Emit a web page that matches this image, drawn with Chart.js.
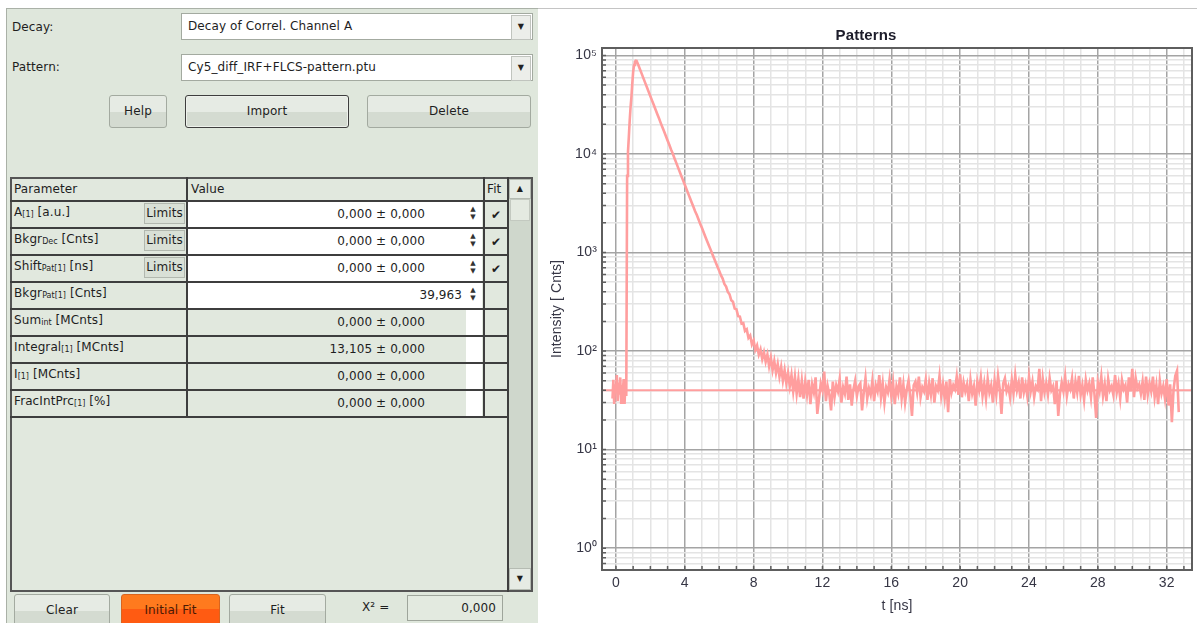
<!DOCTYPE html>
<html>
<head>
<meta charset="utf-8">
<title>Patterns</title>
<script src="https://cdn.jsdelivr.net/npm/chart.js@4.4.1/dist/chart.umd.min.js"></script>
<style>
  html, body { margin: 0; padding: 0; background: #fff; }
  body { width: 1197px; height: 623px; position: relative; overflow: hidden;
         font-family: "DejaVu Sans", "Liberation Sans", Arial, sans-serif; font-size: 12px;
         letter-spacing: 0.1px; color: #1e1e1e; }
  .abs { position: absolute; box-sizing: border-box; }
  #panel { left: 6px; top: 8px; width: 532px; height: 615px; background: #dfe7dc;
           border-top: 1px solid #aab1a7; border-left: 1px solid #aab1a7; }
  #topline { left: 538px; top: 8px; width: 659px; height: 1px; background: #c4c4c4; }
  .lbl { line-height: 16px; white-space: nowrap; }
  .combo { left: 181px; width: 352px; height: 27px; background: #fff; border: 1px solid #a3aaa0; }
  .combo span { position: absolute; left: 6px; top: 0; line-height: 25px; white-space: nowrap; }
  .drop { position: absolute; right: 1px; top: 1px; width: 18px; height: 23px; background: #eceeea;
          border: 1px solid #c0c4be; font-size: 8px; line-height: 21px; text-align: center; color: #222; }
  .btn { height: 33px; border: 1px solid #a3aaa0; border-radius: 3px; text-align: center; line-height: 31px;
         background: linear-gradient(#e6ebe4 0%, #e6ebe4 52%, #d4dbd1 53%, #d4dbd1 100%); white-space: nowrap; }
  .btn.dark { border: 1px solid #3e3e3e; box-shadow: inset 0 0 0 1px #eef2ec; }
  .btn.orange { background: linear-gradient(#ff7a1e 0%, #ff7a1e 45%, #ff5b12 46%, #ff5b12 100%);
                border-color: #d9641e; color: #4a1a04; }
  .hline { height: 2px; background: #3e3e3e; }
  .vline { width: 2px; background: #3e3e3e; }
  .cellw { background: #fff; }
  .limits { height: 21px; width: 41px; left: 144px; background: #d9e0d6; border: 1px solid #b2b8af;
            line-height: 19px; text-align: center; }
  .val { text-align: right; white-space: nowrap; line-height: 25px; }
  .spin { width: 18px; height: 25px; left: 464px; background: #fff; font-size: 7px; line-height: 8px;
          text-align: center; color: #333; padding-top: 3px; }
  sub { font-size: 8px; vertical-align: -1px; letter-spacing: 0; }
  #chartBox { left: 540px; top: 0; width: 657px; height: 623px; }
</style>
</head>
<body>
<div id="panel" class="abs"></div>
<div id="topline" class="abs"></div>

<div class="abs lbl" style="left:12px;top:19px">Decay:</div>
<div class="abs combo" style="top:13px"><span>Decay of Correl. Channel A</span><div class="drop">▼</div></div>
<div class="abs lbl" style="left:12px;top:59px">Pattern:</div>
<div class="abs combo" style="top:54px"><span>Cy5_diff_IRF+FLCS-pattern.ptu</span><div class="drop">▼</div></div>

<div class="abs btn" style="left:109px;top:95px;width:58px">Help</div>
<div class="abs btn dark" style="left:185px;top:95px;width:164px">Import</div>
<div class="abs btn" style="left:367px;top:95px;width:164px">Delete</div>

<!-- parameter table -->
<div class="abs" style="left:10px;top:177px;width:523px;height:415px;border:2px solid #555;background:#e1e8de"></div>
<div class="abs lbl" style="left:14px;top:181px">Parameter</div>
<div class="abs lbl" style="left:191px;top:181px">Value</div>
<div class="abs lbl" style="left:487px;top:181px">Fit</div>
<div id="rows"></div>
<div class="abs vline" style="left:186px;top:177px;height:241px"></div>
<div class="abs vline" style="left:483px;top:177px;height:241px"></div>
<div class="abs vline" style="left:507px;top:177px;height:415px"></div>
<div class="abs hline" style="left:10px;top:416px;width:498px"></div>
<!-- scrollbar -->
<div class="abs" style="left:509px;top:179px;width:22px;height:411px;background:#cfd7cc"></div>
<div class="abs" style="left:509px;top:179px;width:22px;height:20px;background:#e6ebe4;border:1px solid #b5bbb2;font-size:8px;line-height:18px;text-align:center">▲</div>
<div class="abs" style="left:510px;top:199px;width:20px;height:22px;background:#e4eae1;border:1px solid #c3c9c0"></div>
<div class="abs" style="left:509px;top:568px;width:22px;height:22px;background:#e6ebe4;border:1px solid #b5bbb2;font-size:8px;line-height:20px;text-align:center">▼</div>

<!-- bottom buttons -->
<div class="abs btn" style="left:14px;top:594px;width:96px">Clear</div>
<div class="abs btn orange" style="left:121px;top:594px;width:99px">Initial Fit</div>
<div class="abs btn" style="left:229px;top:594px;width:97px">Fit</div>
<div class="abs lbl" style="left:362px;top:599px">X² =</div>
<div class="abs" style="left:407px;top:595px;width:96px;height:26px;border:1px solid #9ea59b;background:#e3eae0;text-align:right;padding-right:6px;line-height:24px">0,000</div>

<div id="chartBox" class="abs"><canvas id="patternChart" width="657" height="623"></canvas></div>

<script>
// --- fit parameter table (text as shown)
var paramNames = ['A', 'Bkgr', 'Shift', 'Bkgr', 'Sum', 'Integral', 'I', 'FracIntPrc'];
var paramSubs = ['[1]', 'Dec', 'Pat[1]', 'Pat[1]', 'int', '[1]', '[1]', '[1]'];
var paramUnits = ['[a.u.]', '[Cnts]', '[ns]', '[Cnts]', '[MCnts]', '[MCnts]', '[MCnts]', '[%]'];
var paramValues = ['0,000 ± 0,000', '0,000 ± 0,000', '0,000 ± 0,000', '39,963',
                   '0,000 ± 0,000', '13,105 ± 0,000', '0,000 ± 0,000', '0,000 ± 0,000'];
var paramEditable = [true, true, true, true, false, false, false, false];
var paramFitted = [true, true, true, false, false, false, false, false];

// --- pattern curve, t [ns] and counts per bin
const times = [
  -0.2,-0.15,-0.1,-0.05,0,0.05,0.1,0.15,0.2,0.25,0.3,0.35,0.4,0.45,0.5,0.55,0.6,0.65,0.7,0.75,0.8,0.85,0.9,0.95,1,1.05,1.1,1.15,1.2,
  1.3,1.4,1.5,1.6,1.7,1.8,1.9,
  2,2.1,2.2,2.3,2.4,2.5,2.6,2.7,2.8,2.9,
  3,3.1,3.2,3.3,3.4,3.5,3.6,3.7,3.8,3.9,
  4,4.1,4.2,4.3,4.4,4.5,4.6,4.7,4.8,4.9,
  5,5.1,5.2,5.3,5.4,5.5,5.6,5.7,5.8,5.9,
  6,6.1,6.2,6.3,6.4,6.5,6.6,6.7,6.8,6.9,
  7,7.1,7.2,7.3,7.4,7.5,7.6,7.7,7.8,7.9,
  8,8.1,8.2,8.3,8.4,8.5,8.6,8.7,8.8,8.9,
  9,9.1,9.2,9.3,9.4,9.5,9.6,9.7,9.8,9.9,
  10,10.1,10.2,10.3,10.4,10.5,10.6,10.7,10.8,10.9,
  11,11.1,11.2,11.3,11.4,11.5,11.6,11.7,11.8,11.9,
  12,12.1,12.2,12.3,12.4,12.5,12.6,12.7,12.8,12.9,
  13,13.1,13.2,13.3,13.4,13.5,13.6,13.7,13.8,13.9,
  14,14.1,14.2,14.3,14.4,14.5,14.6,14.7,14.8,14.9,
  15,15.1,15.2,15.3,15.4,15.5,15.6,15.7,15.8,15.9,
  16,16.1,16.2,16.3,16.4,16.5,16.6,16.7,16.8,16.9,
  17,17.1,17.2,17.3,17.4,17.5,17.6,17.7,17.8,17.9,
  18,18.1,18.2,18.3,18.4,18.5,18.6,18.7,18.8,18.9,
  19,19.1,19.2,19.3,19.4,19.5,19.6,19.7,19.8,19.9,
  20,20.1,20.2,20.3,20.4,20.5,20.6,20.7,20.8,20.9,
  21,21.1,21.2,21.3,21.4,21.5,21.6,21.7,21.8,21.9,
  22,22.1,22.2,22.3,22.4,22.5,22.6,22.7,22.8,22.9,
  23,23.1,23.2,23.3,23.4,23.5,23.6,23.7,23.8,23.9,
  24,24.1,24.2,24.3,24.4,24.5,24.6,24.7,24.8,24.9,
  25,25.1,25.2,25.3,25.4,25.5,25.6,25.7,25.8,25.9,
  26,26.1,26.2,26.3,26.4,26.5,26.6,26.7,26.8,26.9,
  27,27.1,27.2,27.3,27.4,27.5,27.6,27.7,27.8,27.9,
  28,28.1,28.2,28.3,28.4,28.5,28.6,28.7,28.8,28.9,
  29,29.1,29.2,29.3,29.4,29.5,29.6,29.7,29.8,29.9,
  30,30.1,30.2,30.3,30.4,30.5,30.6,30.7,30.8,30.9,
  31,31.1,31.2,31.3,31.4,31.5,31.6,31.7,31.8,31.9,
  32,32.1,32.2,32.3,32.4,32.5,32.6,32.7
];
const counts = [
  33,51,29,46,38,57,31,48,36,54,30,45,40,52,29,47,35,6000,10500,15000,22000,30000,38000,52000,68000,80000,86000,88500,88000,
  80000,72000,65000,58500,52700,47500,42900,
  38600,34800,31400,28300,25500,23000,20700,18700,16900,15200,
  13700,12400,11100,10100,9060,8170,7360,6640,5990,5400,
  4870,4400,3960,3570,3220,2910,2620,2400,2160,1950,
  1770,1600,1440,1300,1180,1070,965,876,793,719,
  652,589,544,480,452,398,377,327,316,270,
  266,226,224,190,192,160,166,136,144,117,
  128,103,114,92,104,83,97,78,92,70,
  86,64,79,60,74,55,69,50,64,47,
  60,44,57,39,55,37,52,34,50,33,
  49,36,51,29,46,38,54,23,33,47,
  40,62,31,44,36,25,49,34,45,39,
  52,30,43,37,55,32,46,28,41,50,
  35,44,47,25,38,53,33,42,36,50,
  31,45,39,57,34,47,30,43,38,52,
  35,48,29,44,37,54,33,46,30,41,
  50,36,22,45,49,38,55,34,43,39,
  51,32,47,36,53,30,44,40,56,35,
  46,33,49,24,52,38,45,41,55,36,
  58,34,48,39,46,31,51,37,44,28,
  49,40,54,35,47,33,52,38,45,30,
  50,36,56,41,23,47,53,39,44,34,
  51,37,57,40,48,33,54,38,46,35,
  55,39,49,34,44,41,66,31,52,38,
  47,36,53,40,44,29,50,22,37,48,
  39,55,35,46,41,53,33,49,38,56,
  36,45,32,51,40,47,34,54,37,21,
  48,39,55,35,46,31,52,40,44,36,
  57,38,47,33,51,41,45,30,54,39,
  66,34,53,42,46,37,49,32,55,36,
  47,39,55,34,45,29,50,37,44,33,
  52,28,46,19,41,56,63,24
];
const bkgrPattern = 39.963;   // Bkgr Pat[1] level

// axis ranges and ticks
const tMin = -0.81, tMax = 33.47;
const yMin = 0.62, yMax = 119000;
const xLabelEvery = 4;
const tickExps = [-1, 0, 1, 2, 3, 4, 5];
const tickMantissas = [1, 2, 3, 4, 5, 6, 7, 8, 9];
const superDigits = ['⁰', '¹', '²', '³', '⁴', '⁵', '⁶', '⁷', '⁸', '⁹'];

var curveColor = '#ff9e9e';
var majorGrid = '#a4a4a4';
var minorGrid = '#e4e4e4';
var textColor = '#363645';

// build the table rows
function buildRows() {
  var host = document.getElementById('rows');
  paramNames.forEach(function (name, i) {
    var top = 202 + i * 27;
    var html = '';
    html += '<div class="abs hline" style="left:10px;top:' + (top - 2) + 'px;width:498px"></div>';
    html += '<div class="abs lbl" style="left:14px;top:' + (top + 2) + 'px">' + name +
            '<sub>' + paramSubs[i] + '</sub> ' + paramUnits[i] + '</div>';
    if (paramFitted[i]) {
      html += '<div class="abs limits" style="top:' + (top + 1) + 'px">Limits</div>';
      html += '<div class="abs lbl" style="left:491px;top:' + (top + 5) + 'px;font-size:12px">✔</div>';
    }
    if (paramEditable[i]) {
      html += '<div class="abs cellw" style="left:188px;top:' + top + 'px;width:276px;height:25px"></div>';
      html += '<div class="abs spin" style="top:' + top + 'px">▲<br>▼</div>';
    } else {
      html += '<div class="abs cellw" style="left:466px;top:' + top + 'px;width:16px;height:25px"></div>';
    }
    var right = (paramValues[i].indexOf('±') >= 0) ? 425 : 462;
    html += '<div class="abs val" style="left:188px;top:' + top + 'px;width:' + (right - 188) + 'px">' +
            paramValues[i] + '</div>';
    host.insertAdjacentHTML('beforeend', html);
  });
}

function isPow10(v) {
  var l = Math.log10(v);
  return Math.abs(l - Math.round(l)) < 1e-6;
}

function logTickValues() {
  var vals = [];
  tickExps.forEach(function (e) {
    tickMantissas.forEach(function (m) {
      var v = m * Math.pow(10, e);
      if (v >= yMin && v <= yMax) vals.push(v);
    });
  });
  return vals;
}

// frame around the plot and small inward tick marks
var framePlugin = {
  id: 'plotFrame',
  afterDraw: function (chart) {
    var ctx = chart.ctx, a = chart.chartArea, sx = chart.scales.x, sy = chart.scales.y;
    ctx.save();
    ctx.strokeStyle = '#5e5e5e';
    ctx.lineWidth = 1.5;
    ctx.beginPath();
    sx.ticks.forEach(function (t) {
      var px = sx.getPixelForValue(t.value);
      ctx.moveTo(px, a.bottom);
      ctx.lineTo(px, a.bottom - 4);
    });
    sy.ticks.forEach(function (t) {
      var py = sy.getPixelForValue(t.value);
      ctx.moveTo(a.left, py);
      ctx.lineTo(a.left + 4, py);
    });
    ctx.stroke();
    ctx.lineWidth = 2;
    ctx.strokeRect(a.left, a.top, a.right - a.left, a.bottom - a.top);
    ctx.restore();
  }
};

function drawChart() {
  var points = times.map(function (t, i) { return {x: t, y: counts[i]}; });
  var ctx = document.getElementById('patternChart').getContext('2d');
  new Chart(ctx, {
    type: 'line',
    data: {
      datasets: [
        {
          data: [{x: tMin, y: bkgrPattern}, {x: tMax, y: bkgrPattern}],
          borderColor: curveColor, borderWidth: 2, pointRadius: 0
        },
        {
          data: points,
          borderColor: curveColor, borderWidth: 2.6, pointRadius: 0, tension: 0
        }
      ]
    },
    options: {
      responsive: false,
      animation: false,
      devicePixelRatio: 1,
      layout: { padding: { left: 0, right: 5, top: 0, bottom: 0 } },
      plugins: {
        legend: { display: false },
        tooltip: { enabled: false },
        title: {
          display: true,
          text: 'Patterns',
          color: '#1c1c2a',
          font: { family: 'Liberation Sans', size: 15, weight: 'bold' },
          padding: { top: 27, bottom: 3 }
        }
      },
      scales: {
        x: {
          type: 'linear',
          min: tMin,
          max: tMax,
          afterBuildTicks: function (scale) {
            var list = [];
            for (var v = Math.ceil(tMin); v <= Math.floor(tMax); v++) list.push({value: v});
            scale.ticks = list;
          },
          afterFit: function (scale) { scale.height = 53; },
          border: { display: false },
          grid: {
            drawTicks: false,
            lineWidth: 1.5,
            color: function (c) { return (c.tick && c.tick.value % xLabelEvery === 0) ? majorGrid : minorGrid; }
          },
          ticks: {
            autoSkip: false,
            maxRotation: 0,
            padding: 5,
            color: textColor,
            font: { family: 'Liberation Sans', size: 14 },
            callback: function (value) { return value % xLabelEvery === 0 ? String(value) : ''; }
          },
          title: {
            display: true,
            text: 't [ns]',
            color: textColor,
            font: { family: 'Liberation Sans', size: 14 },
            padding: { top: 0, bottom: 8 }
          }
        },
        y: {
          type: 'logarithmic',
          min: yMin,
          max: yMax,
          afterBuildTicks: function (scale) {
            scale.ticks = logTickValues().map(function (v) { return {value: v}; });
          },
          afterFit: function (scale) { scale.width = 62; },
          border: { display: false },
          grid: {
            drawTicks: false,
            lineWidth: 1.5,
            color: function (c) { return (c.tick && isPow10(c.tick.value)) ? majorGrid : minorGrid; }
          },
          ticks: {
            autoSkip: false,
            padding: 5,
            color: textColor,
            font: { family: 'Liberation Sans', size: 14 },
            callback: function (value) {
              if (!isPow10(value)) return '';
              var e = Math.round(Math.log10(value));
              return '10' + superDigits[e];
            }
          },
          title: {
            display: true,
            text: 'Intensity [ Cnts]',
            color: textColor,
            font: { family: 'Liberation Sans', size: 14 },
            padding: { top: 9, bottom: 0 }
          }
        }
      }
    },
    plugins: [framePlugin]
  });
}

buildRows();
drawChart();
</script>
</body>
</html>
